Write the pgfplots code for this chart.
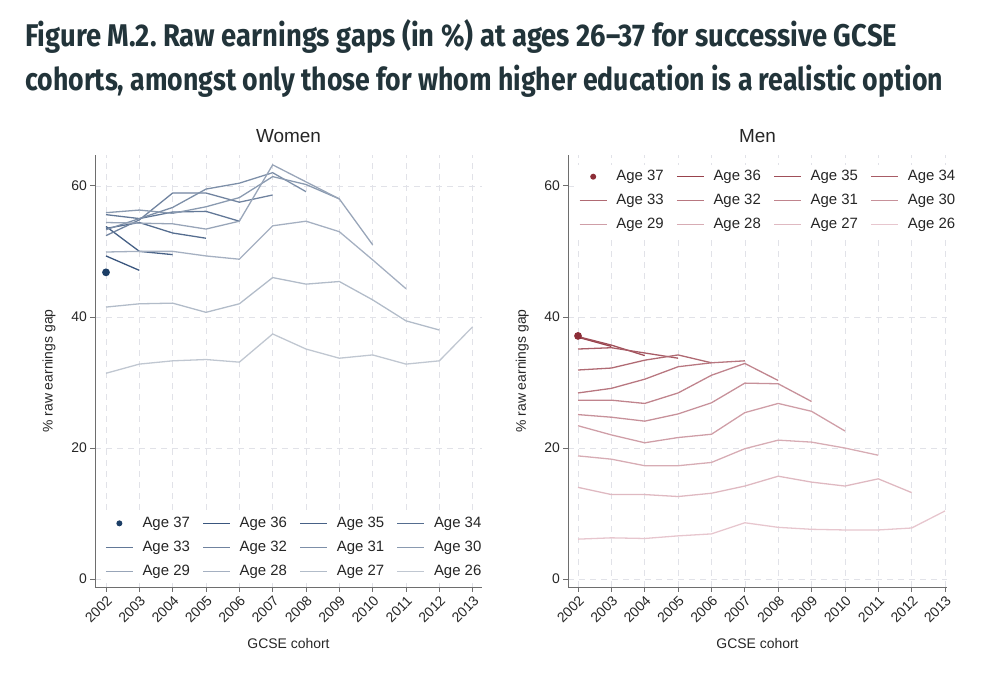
\documentclass[border=0pt]{standalone}
\usepackage{pgfplots}
\pgfplotsset{compat=1.18}
\usepackage{fontspec}
\usepackage{graphicx}
\setmainfont{Liberation Sans}
\newfontfamily\titlefont{Fira Sans}
\frenchspacing

\definecolor{titlecol}{RGB}{34,52,58}
\definecolor{axcol}{RGB}{110,110,110}
\definecolor{gridcol}{RGB}{225,226,232}
\definecolor{wdot}{RGB}{28,62,102}
\definecolor{wd}{RGB}{58,86,126}
\definecolor{wl}{RGB}{192,199,209}
\definecolor{mdot}{RGB}{140,45,55}
\definecolor{md}{RGB}{152,66,76}
\definecolor{ml}{RGB}{231,198,206}
\colorlet{w36}{wd!100!wl}\colorlet{w35}{wd!90!wl}\colorlet{w34}{wd!80!wl}
\colorlet{w33}{wd!70!wl}\colorlet{w32}{wd!60!wl}\colorlet{w31}{wd!50!wl}
\colorlet{w30}{wd!40!wl}\colorlet{w29}{wd!30!wl}\colorlet{w28}{wd!20!wl}
\colorlet{w27}{wd!10!wl}\colorlet{w26}{wd!0!wl}
\colorlet{m36}{md!100!ml}\colorlet{m35}{md!90!ml}\colorlet{m34}{md!80!ml}
\colorlet{m33}{md!70!ml}\colorlet{m32}{md!60!ml}\colorlet{m31}{md!50!ml}
\colorlet{m30}{md!40!ml}\colorlet{m29}{md!30!ml}\colorlet{m28}{md!20!ml}
\colorlet{m27}{md!10!ml}\colorlet{m26}{md!0!ml}

\pgfplotsset{
  panel/.style={
    scale only axis,
    height=432bp,
    axis lines=left,
    axis line style={-, axcol, line width=0.8pt},
    tick align=outside,
    major tick length=5bp,
    tick style={axcol, line width=0.8pt},
    ymin=-1.2, ymax=64.7,
    ytick={0,20,40,60},
    xtick={2002,2003,...,2013},
    grid=major,
    grid style={dashed, dash pattern=on 6bp off 5bp, gridcol, line width=0.6pt},
    /pgf/number format/1000 sep={},
    /pgf/number format/assume math mode=true,
    tick label style={font=\fontsize{14}{14}\selectfont, black!85},
    xticklabel style={rotate=45, anchor=north east, inner sep=2bp},
    yticklabel style={inner sep=3bp},
    xlabel={GCSE cohort},
    ylabel={\% raw earnings gap},
    label style={font=\fontsize{14}{14}\selectfont, black!85},
    xlabel style={at={(axis description cs:0.5,-0.13)}, anchor=center},
    title style={font=\fontsize{19}{19}\selectfont, black!85, at={(axis description cs:0.5,1)}, anchor=base, yshift=7bp},
    every axis plot/.append style={line width=1.3pt, mark=none},
    legend columns=4,
    legend cell align=left,
    legend image code/.code={\draw[#1] (0bp,0bp) -- (27bp,0bp);},
    legend style={font=\fontsize{15}{15}\selectfont, draw=none, fill=white,
      inner sep=2bp,
      nodes={inner xsep=2bp, inner ysep=2bp, text height=12bp, text depth=4bp, text=black!85},
      /tikz/every odd column/.append style={column sep=7bp},
      /tikz/every even column/.append style={column sep=10.5bp},
      row sep=4bp},
  }
}

\begin{document}
\begin{tikzpicture}
\useasboundingbox (0,0) rectangle (995bp,674bp);

\node[anchor=base west, inner sep=0, text=titlecol] at (25bp,627bp)
  {\resizebox{872bp}{\height}{\titlefont\bfseries\fontsize{31.5}{31.5}\selectfont Figure M.2. Raw earnings gaps (in \%) at ages 26–37 for successive GCSE}};
\node[anchor=base west, inner sep=0, text=titlecol] at (25bp,583bp)
  {\resizebox{918bp}{\height}{\titlefont\bfseries\fontsize{31.5}{31.5}\selectfont cohorts, amongst only those for whom higher education is a realistic option}};

% ---------------- Women ----------------
\begin{axis}[panel, at={(95bp,87bp)}, anchor=south west, width=387bp,
  xmin=2001.67, xmax=2013.28, title={Women},
  ylabel style={at={(axis description cs:-0.119,0.5)}, anchor=center},
  legend style={at={(0.515,0.008)}, anchor=south}]
\addplot[only marks, mark=*, mark size=3.2bp, wdot,
  legend image code/.code={\path[draw=none,fill=none] (0bp,0bp) -- (27bp,0bp); \fill[wdot,draw=none] (13.5bp,0bp) circle (3bp);}]
  coordinates {(2002,46.8)};
\addplot[w36] coordinates {(2002,49.3)(2003,47.1)};
\addplot[w35] coordinates {(2002,53.8)(2003,50.0)(2004,49.5)};
\addplot[w34] coordinates {(2002,53.5)(2003,54.4)(2004,52.8)(2005,52.0)};
\addplot[w33] coordinates {(2002,55.6)(2003,55.0)(2004,56.0)(2005,56.1)(2006,54.6)};
\addplot[w32] coordinates {(2002,52.4)(2003,54.8)(2004,58.9)(2005,58.9)(2006,57.5)(2007,58.6)};
\addplot[w31] coordinates {(2002,53.3)(2003,55.0)(2004,56.7)(2005,59.5)(2006,60.4)(2007,62.0)(2008,59.1)};
\addplot[w30] coordinates {(2002,55.9)(2003,56.3)(2004,55.8)(2005,56.8)(2006,58.2)(2007,61.4)(2008,60.2)(2009,58.0)};
\addplot[w29] coordinates {(2002,54.4)(2003,54.3)(2004,54.2)(2005,53.4)(2006,54.6)(2007,63.2)(2008,60.6)(2009,58.0)(2010,51.0)};
\addplot[w28] coordinates {(2002,49.9)(2003,50.0)(2004,50.0)(2005,49.3)(2006,48.8)(2007,53.9)(2008,54.6)(2009,53.0)(2010,48.7)(2011,44.3)};
\addplot[w27] coordinates {(2002,41.5)(2003,42.0)(2004,42.1)(2005,40.7)(2006,42.0)(2007,46.0)(2008,45.0)(2009,45.4)(2010,42.6)(2011,39.4)(2012,38.0)};
\addplot[w26] coordinates {(2002,31.4)(2003,32.8)(2004,33.3)(2005,33.5)(2006,33.1)(2007,37.4)(2008,35.1)(2009,33.7)(2010,34.2)(2011,32.8)(2012,33.3)(2013,38.5)};
\legend{Age 37,Age 36,Age 35,Age 34,Age 33,Age 32,Age 31,Age 30,Age 29,Age 28,Age 27,Age 26}
\end{axis}

% ---------------- Men ----------------
\begin{axis}[panel, at={(568bp,87bp)}, anchor=south west, width=379bp,
  xmin=2001.70, xmax=2013.06, title={Men},
  ylabel style={at={(axis description cs:-0.121,0.5)}, anchor=center},
  legend style={at={(0.528,0.978)}, anchor=north}]
\addplot[only marks, mark=*, mark size=3.2bp, mdot,
  legend image code/.code={\path[draw=none,fill=none] (0bp,0bp) -- (27bp,0bp); \fill[mdot,draw=none] (13.5bp,0bp) circle (3bp);}]
  coordinates {(2002,37.1)};
\addplot[m36] coordinates {(2002,36.9)(2003,35.5)};
\addplot[m35] coordinates {(2002,37.0)(2003,35.7)(2004,34.1)};
\addplot[m34] coordinates {(2002,35.1)(2003,35.3)(2004,34.5)(2005,33.7)};
\addplot[m33] coordinates {(2002,31.9)(2003,32.2)(2004,33.4)(2005,34.2)(2006,33.0)};
\addplot[m32] coordinates {(2002,28.4)(2003,29.1)(2004,30.5)(2005,32.4)(2006,33.0)(2007,33.3)};
\addplot[m31] coordinates {(2002,27.3)(2003,27.3)(2004,26.8)(2005,28.4)(2006,31.1)(2007,32.9)(2008,30.3)};
\addplot[m30] coordinates {(2002,25.1)(2003,24.7)(2004,24.1)(2005,25.2)(2006,26.9)(2007,29.9)(2008,29.8)(2009,27.1)};
\addplot[m29] coordinates {(2002,23.4)(2003,22.0)(2004,20.8)(2005,21.6)(2006,22.1)(2007,25.4)(2008,26.8)(2009,25.6)(2010,22.6)};
\addplot[m28] coordinates {(2002,18.8)(2003,18.3)(2004,17.3)(2005,17.3)(2006,17.8)(2007,19.9)(2008,21.2)(2009,20.9)(2010,20.0)(2011,18.9)};
\addplot[m27] coordinates {(2002,14.0)(2003,12.9)(2004,12.9)(2005,12.6)(2006,13.1)(2007,14.2)(2008,15.7)(2009,14.8)(2010,14.2)(2011,15.3)(2012,13.2)};
\addplot[m26] coordinates {(2002,6.1)(2003,6.3)(2004,6.2)(2005,6.6)(2006,6.9)(2007,8.6)(2008,7.9)(2009,7.6)(2010,7.5)(2011,7.5)(2012,7.8)(2013,10.4)};
\legend{Age 37,Age 36,Age 35,Age 34,Age 33,Age 32,Age 31,Age 30,Age 29,Age 28,Age 27,Age 26}
\end{axis}
\end{tikzpicture}
\end{document}
